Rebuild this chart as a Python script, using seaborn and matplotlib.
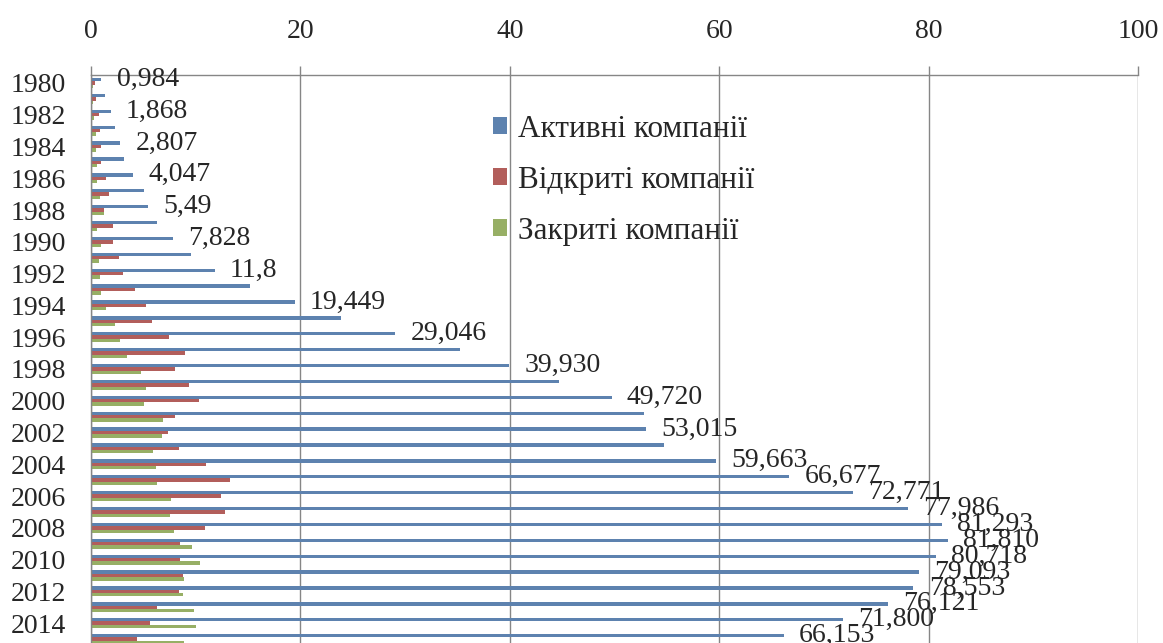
import numpy as np
import pandas as pd
import matplotlib
matplotlib.use("Agg")
import matplotlib.pyplot as plt
import seaborn as sns

# Data
years = list(range(1980, 2016))
active = [0.984, 1.34, 1.868, 2.29, 2.807, 3.15, 4.047, 5.1, 5.49, 6.31,
          7.828, 9.53, 11.8, 15.14, 19.449, 23.84, 29.046, 35.2, 39.930, 44.68,
          49.720, 52.8, 53.015, 54.7, 59.663, 66.677, 72.771, 77.986, 81.293, 81.810,
          80.718, 79.093, 78.553, 76.121, 71.800, 66.153]
opened = [0.38, 0.48, 0.73, 0.86, 0.96, 0.96, 1.43, 1.72, 1.21, 2.07,
          2.07, 2.68, 3.03, 4.24, 5.23, 5.86, 7.42, 9.02, 8.06, 9.4,
          10.36, 8.06, 7.33, 8.41, 11.0, 13.29, 12.43, 12.84, 10.87, 8.54,
          8.54, 8.76, 8.41, 6.34, 5.61, 4.37]
closed = [0.22, 0.16, 0.32, 0.48, 0.48, 0.57, 0.57, 0.86, 1.21, 0.57,
          0.96, 0.73, 0.83, 0.92, 1.43, 2.29, 2.77, 3.41, 4.75, 5.23,
          5.1, 6.92, 6.82, 5.96, 6.18, 6.34, 7.68, 7.55, 7.93, 9.66,
          10.39, 8.89, 8.76, 9.88, 10.0, 8.89]
series_names = ["Активні компанії", "Відкриті компанії", "Закриті компанії"]
colors = ["#4F81BD", "#C0504D", "#9BBB59"]

# labels shown on the blue bars (empty = no label)
active_labels = ["0,984", "", "1,868", "", "2,807", "", "4,047", "", "5,49", "",
                 "7,828", "", "11,8", "", "19,449", "", "29,046", "", "39,930", "",
                 "49,720", "", "53,015", "", "59,663", "66,677", "72,771", "77,986", "81,293", "81,810",
                 "80,718", "79,093", "78,553", "76,121", "71,800", "66,153"]
year_ticks = [str(y) if y % 2 == 0 else "" for y in years]

df = pd.DataFrame({
    "year": [str(y) for y in years] * 3,
    "value": active + opened + closed,
    "series": np.repeat(series_names, len(years)),
})

sns.set_style("white")
plt.rcParams["font.family"] = ["Liberation Serif", "DejaVu Serif"]

fig = plt.figure(figsize=(11.63, 6.43), dpi=100)
# axes runs a few pixels past the bottom edge, like the cropped original
ax = fig.add_axes([91 / 1163, -4 / 643, 1047 / 1163, 572 / 643])

sns.barplot(data=df, y="year", x="value", hue="series", orient="h",
            palette=colors, width=0.64, ax=ax, linewidth=0)

ax.set_xlim(0, 100)
ax.set_ylim(len(years) - 0.5, -0.5)
ax.xaxis.tick_top()
ax.set_xticks([0, 20, 40, 60, 80, 100])
ax.tick_params(axis="x", which="major", length=6.5, width=1, color="#868686",
               pad=16, labelsize=20, direction="out")
ax.set_xlabel("")
ax.set_ylabel("")

# year labels at category centres, tick marks between categories
ax.set_yticks(range(len(years)))
ax.set_yticklabels(year_ticks)
ax.tick_params(axis="y", which="major", length=0, pad=18, labelsize=20)
ax.set_yticks(np.arange(-0.5, len(years), 1), minor=True)
ax.tick_params(axis="y", which="minor", length=6.5, width=1, color="#868686",
               direction="out")

ax.grid(axis="x", color="#868686", linewidth=1)
ax.set_axisbelow(True)
for side in ["right", "bottom"]:
    ax.spines[side].set_visible(False)
for side in ["top", "left"]:
    ax.spines[side].set_color("#868686")
    ax.spines[side].set_linewidth(1)

ax.bar_label(ax.containers[0], labels=active_labels, padding=11, fontsize=20)

ax.legend(loc="upper left", bbox_to_anchor=(493 / 1163, 1 - 115 / 643),
          bbox_transform=fig.transFigure, frameon=False, fontsize=22.5,
          handlelength=0.45, handleheight=0.45, handletextpad=0.35,
          labelspacing=0.7, borderpad=0, borderaxespad=0)

fig.savefig("out.png", dpi=100)
